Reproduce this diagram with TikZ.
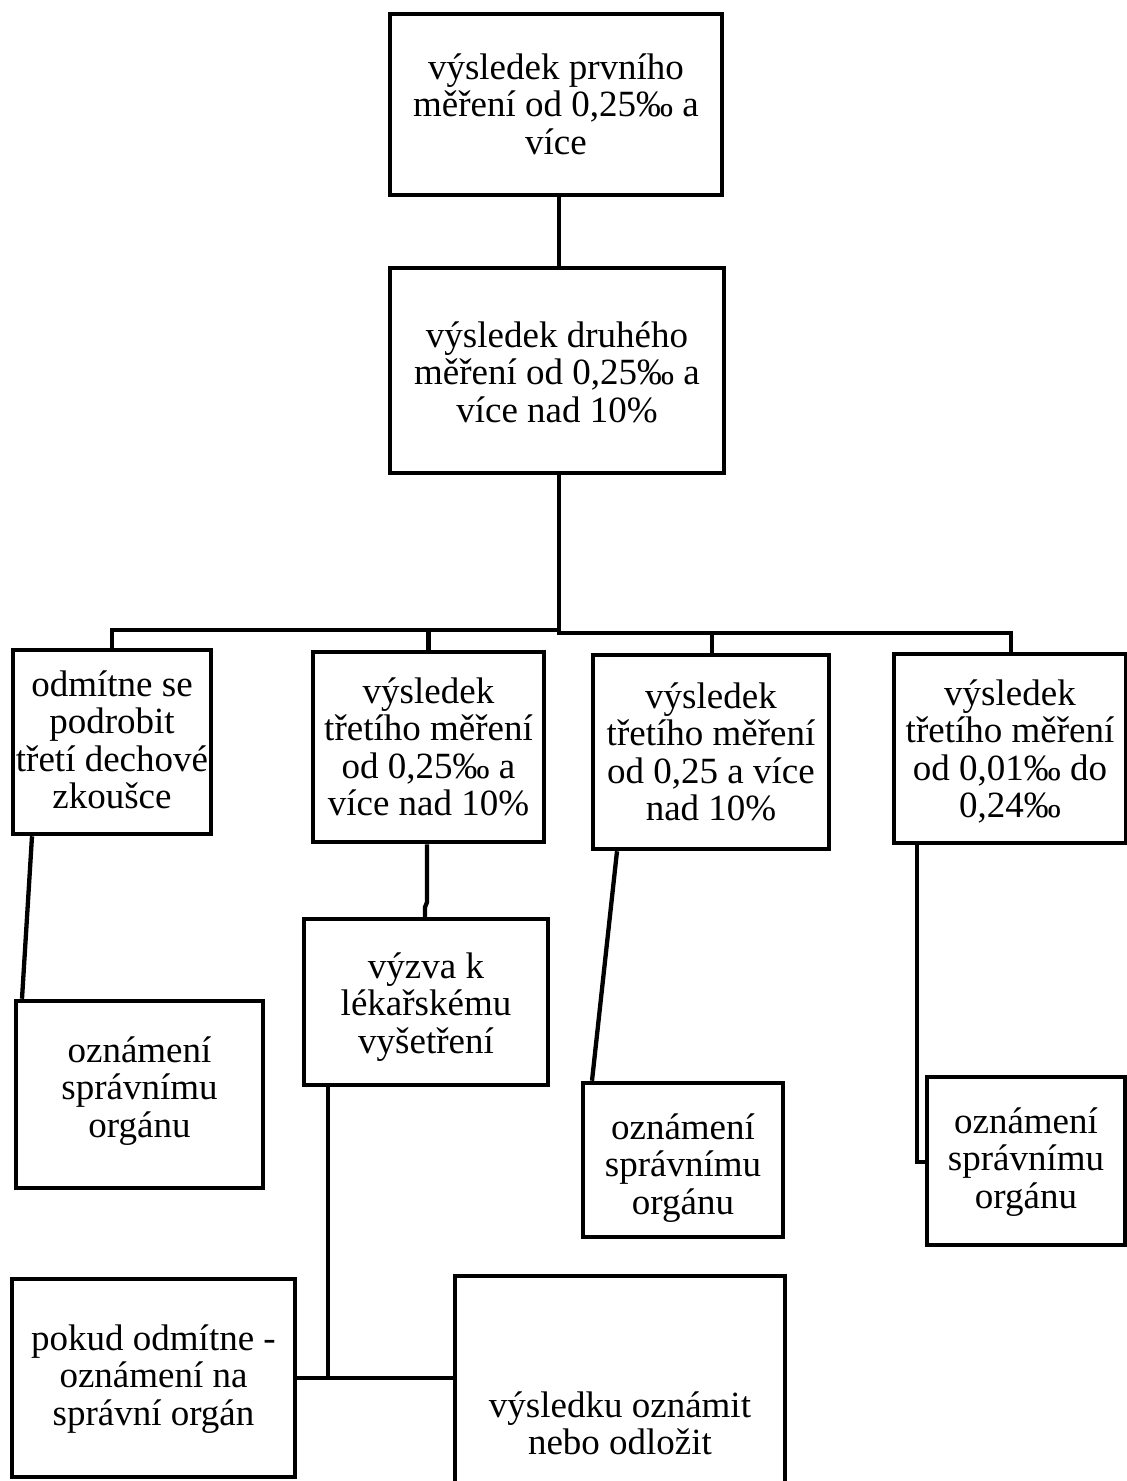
\documentclass[tikz,border=0pt]{standalone}
\usepackage{fontspec}
\setmainfont{Liberation Serif}
\newcommand\btxt[1]{\begin{tabular}[t]{@{}c@{}}#1\end{tabular}}
\begin{document}
\begin{tikzpicture}[x=1pt,y=-1pt,
  boxst/.style={draw=black, line width=4.5pt, fill=none, inner sep=0pt, rectangle},
  txt/.style={anchor=base, inner sep=0pt, font=\fontsize{37}{37.5}\selectfont},
  conn/.style={draw=black, line width=4.3pt}]
\useasboundingbox (0,0) rectangle (1127,1481);
\fill[white] (0,0) rectangle (1127,1481);
% boxes
\node[boxst, minimum width=332pt, minimum height=181pt] (b1) at (556,104.5) {};
\node[boxst, minimum width=334pt, minimum height=205pt] (b2) at (557,370.5) {};
\node[boxst, minimum width=198pt, minimum height=184pt] (bA) at (112,742) {};
\node[boxst, minimum width=231pt, minimum height=190pt] (bB) at (428.5,747) {};
\node[boxst, minimum width=236pt, minimum height=194pt] (bC) at (711,752) {};
\node[boxst, minimum width=232pt, minimum height=189pt] (bD) at (1010,748.5) {};
\node[boxst, minimum width=247pt, minimum height=187pt] (bE) at (139.5,1094.5) {};
\node[boxst, minimum width=244pt, minimum height=166pt] (bF) at (426,1002) {};
\node[boxst, minimum width=200pt, minimum height=154pt] (bG) at (683,1160) {};
\node[boxst, minimum width=198pt, minimum height=168pt] (bH) at (1026,1161) {};
\node[boxst, minimum width=283pt, minimum height=198pt] (bI) at (153.5,1378) {};
\node[boxst, minimum width=330pt, minimum height=294pt] (bJ) at (620,1423) {};
% texts
\node[txt] (t1) at (556,79) {\btxt{výsledek prvního\\měření od 0,25‰ a\\více}};
\node[txt] (t2) at (557,347) {\btxt{výsledek druhého\\měření od 0,25‰ a\\více nad 10\%}};
\node[txt] (tA) at (112,696) {\btxt{odmítne se\\podrobit\\třetí dechové\\zkoušce}};
\node[txt] (tB) at (428.5,703) {\btxt{výsledek\\třetího měření\\od 0,25‰ a\\více nad 10\%}};
\node[txt] (tC) at (711,708) {\btxt{výsledek\\třetího měření\\od 0,25 a více\\nad 10\%}};
\node[txt] (tD) at (1010,705) {\btxt{výsledek\\třetího měření\\od 0,01‰ do\\0,24‰}};
\node[txt] (tE) at (139.5,1062) {\btxt{oznámení\\správnímu\\orgánu}};
\node[txt] (tF) at (426,978) {\btxt{výzva k\\lékařskému\\vyšetření}};
\node[txt] (tG) at (683,1139) {\btxt{oznámení\\správnímu\\orgánu}};
\node[txt] (tH) at (1026,1133) {\btxt{oznámení\\správnímu\\orgánu}};
\node[txt] (tI) at (153.5,1350) {\btxt{pokud odmítne -\\oznámení na\\správní orgán}};
\node[txt] (tJ) at (620,1417) {\btxt{výsledku oznámit\\nebo odložit}};
% connectors
\coordinate (hubL) at (559,630);
\coordinate (hubR) at (559,633);
\draw[conn] ([xshift=3pt]b1.south) -- ([xshift=2pt]b2.north);
\draw[conn] ([xshift=2pt]b2.south) -- ([xshift=2pt,yshift=-1.5pt]b2.south |- hubR);
\draw[conn] (bA.north) |- (hubL);
\draw[conn] (bB.north) -- (bB.north |- hubL);
\draw[conn] ([xshift=1pt]bD.north) |- (hubR);
\draw[conn] ([xshift=1pt]bC.north) -- ([xshift=1pt]bC.north |- hubR);
\draw[conn] ([xshift=-80pt]bA.south) -- ([xshift=-117.5pt]bE.north);
\draw[conn] ([xshift=-1.5pt]bB.south) -- ++(0,58) -- ++(-2,5) -- ([xshift=-1pt]bF.north);
\draw[conn] ([xshift=-94pt]bC.south) -- ([xshift=-91pt]bG.north);
\draw[conn] ([xshift=-93pt]bD.south) |- ([yshift=-1pt]bH.west);
\coordinate (fbot) at ([xshift=-98pt]bF.south);
\coordinate (jin) at ([yshift=-104pt]bJ.north west);
\draw[conn] (fbot) |- (jin);
\draw[conn] (bI.east) -- (bI.east -| fbot);
\end{tikzpicture}
\end{document}
